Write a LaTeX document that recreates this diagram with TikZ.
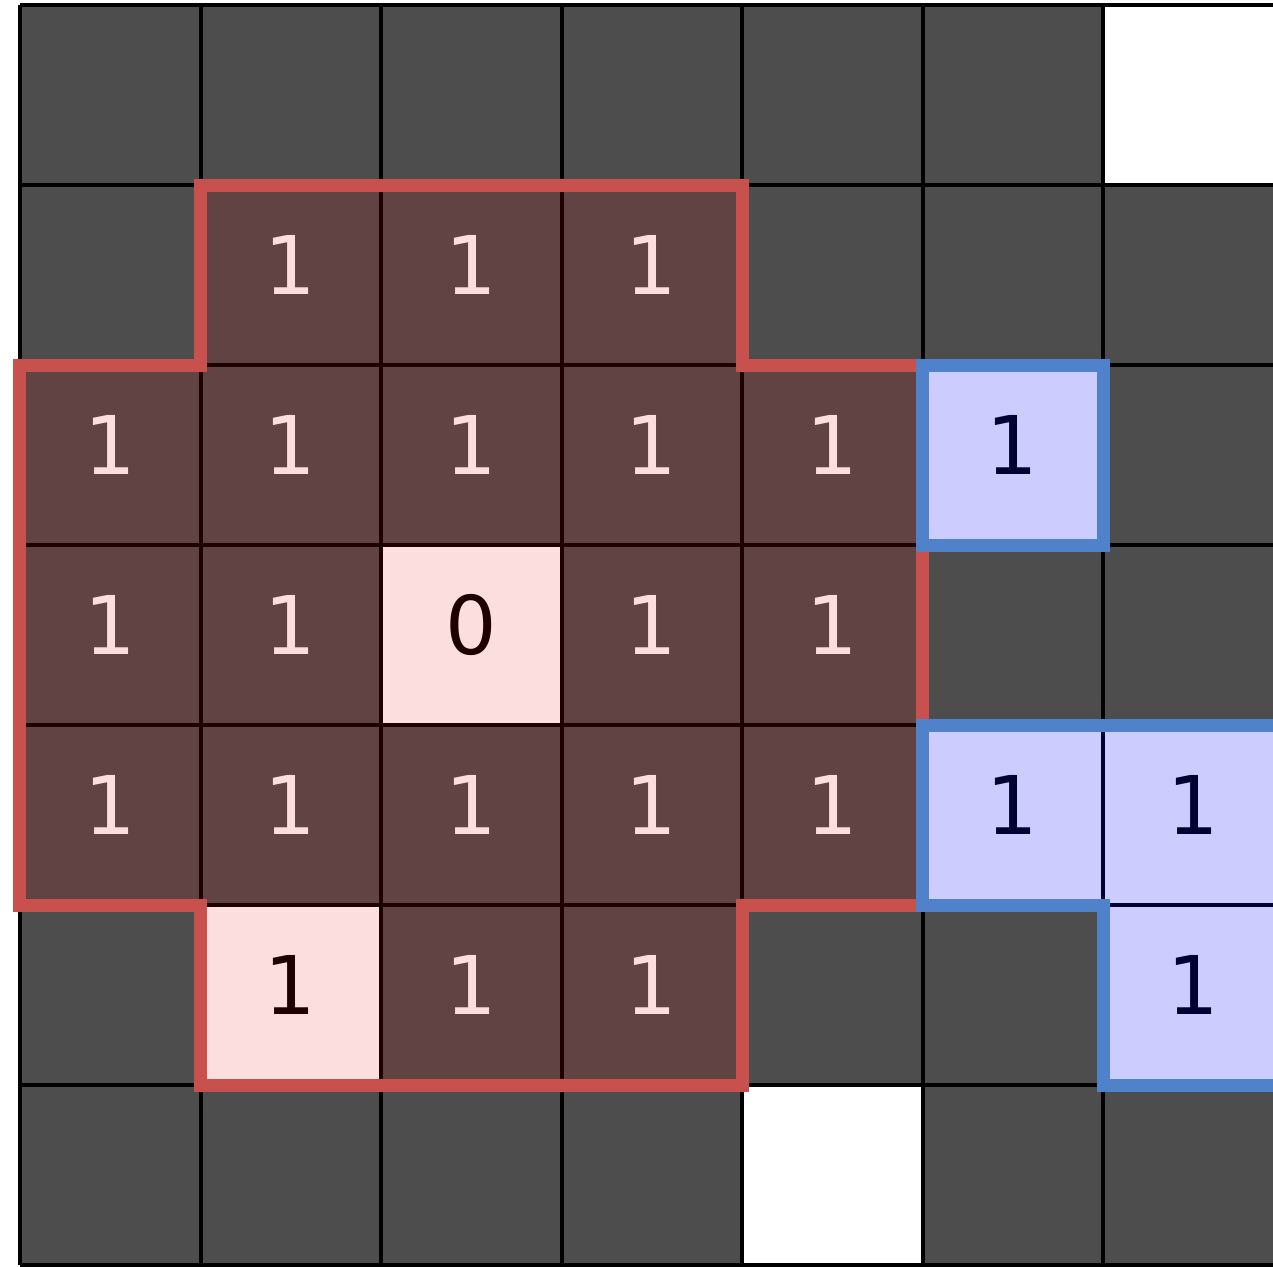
\documentclass[tikz,border=0pt]{standalone}
\usepackage{fontspec}
\setmainfont{DejaVu Sans}
\definecolor{cellgray}{HTML}{4D4D4D}
\definecolor{redline}{HTML}{C8504D}
\definecolor{blueline}{HTML}{5082CC}
\definecolor{redtint}{HTML}{F60000}
\begin{document}
\begin{tikzpicture}[x=180.5pt,y=-180pt,
  digit/.style={font=\fontsize{81}{81}\selectfont, inner sep=0pt, yshift=10pt},
  lightdigit/.style={digit, text=white},
  darkdigit/.style={digit, text=black},
  gridline/.style={line width=4pt, black},
  whitecell/.style={fill=white},
  redborder/.style={line width=13pt, redline, line join=miter},
  blueborder/.style={line width=13pt, blueline, line join=miter}]
\useasboundingbox (-0.1108,-0.02778) rectangle (6.9418,7.0056);
\begin{scope}
\clip (-0.1108,-0.02778) rectangle (6.9418,7.0056);
% base cells
\fill[cellgray] (0,0) rectangle (7.5,7);
\foreach \cx/\cy in {6/0,4/6,2/3,1/5,5/2,5/4,6/4,6/5}
  \fill[whitecell] (\cx,\cy) rectangle ++(1,1);
% digits
\foreach \cx/\cy in {1/1,2/1,3/1, 0/2,1/2,2/2,3/2,4/2, 0/3,1/3,3/3,4/3, 0/4,1/4,2/4,3/4,4/4, 2/5,3/5}
  \node[lightdigit] (d\cx\cy) at (\cx+0.5,\cy+0.5) {1};
\foreach \cx/\cy in {5/2,5/4,6/4,1/5,6/5}
  \node[darkdigit] (d\cx\cy) at (\cx+0.5,\cy+0.5) {1};
\node[darkdigit] (d23) at (2.5,3.5) {0};
% grid
\foreach \i in {0,...,7} \draw[gridline] (\i,0) -- (\i,7);
\foreach \j in {0,...,7} \draw[gridline] (0,\j) -- (7.5,\j);
% tints
\fill[redtint, opacity=0.13] (1,1) -- (4,1) -- (4,2) -- (5,2) -- (5,5) -- (4,5) -- (4,6) -- (1,6) -- (1,5) -- (0,5) -- (0,2) -- (1,2) -- cycle;
\fill[blue, opacity=0.2] (5,2) rectangle (6,3);
\fill[blue, opacity=0.2] (5,4) -- (7.5,4) -- (7.5,6) -- (6,6) -- (6,5) -- (5,5) -- cycle;
% borders
\draw[redborder] (1,1) -- (4,1) -- (4,2) -- (5,2) -- (5,5) -- (4,5) -- (4,6) -- (1,6) -- (1,5) -- (0,5) -- (0,2) -- (1,2) -- cycle;
\draw[blueborder] (5,2) rectangle (6,3);
\draw[blueborder] (7.5,4) -- (5,4) -- (5,5) -- (6,5) -- (6,6) -- (7.5,6);
\end{scope}
\end{tikzpicture}
\end{document}
